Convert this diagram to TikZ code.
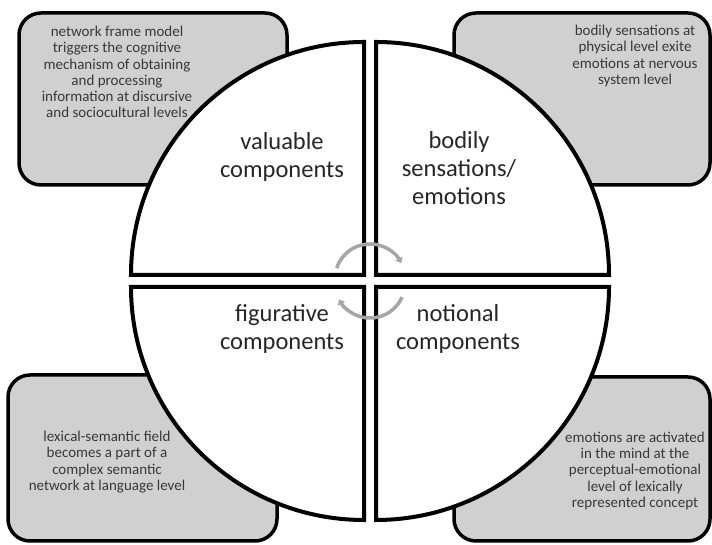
\documentclass[tikz,border=0pt]{standalone}
\usepackage{fontspec}
\setmainfont{Carlito}
\usetikzlibrary{arrows.meta}
\definecolor{boxgray}{HTML}{D0D0D0}
\definecolor{boxtext}{HTML}{383838}
\definecolor{quadtext}{HTML}{262626}
\definecolor{arrgray}{HTML}{A6A6A6}
\begin{document}
\begin{tikzpicture}[x=1pt,y=1pt,
  infobox/.style={draw=black,line width=3.5pt,fill=boxgray,rounded corners=22pt},
  quad/.style={draw=black,line width=4pt,fill=white},
  boxlabel/.style={align=center,text=boxtext,font=\fontsize{15}{16.2}\selectfont,inner sep=0pt},
  quadlabel/.style={align=center,text=quadtext,font=\fontsize{24.5}{28}\selectfont,inner sep=0pt},
  cyclearrow/.style={draw=arrgray,line width=3.5pt,-{Triangle[length=5pt,width=8pt]}}]
\useasboundingbox (0,0) rectangle (712,545);
% grey information boxes
\path[infobox] (19,360) rectangle (287,532);
\path[infobox] (454,360) rectangle (710,532);
\path[infobox] (8,4) rectangle (277,170);
\path[infobox] (454,4) rectangle (710,168);
% four quadrants
\path[quad] (364,270) -- (131,270) arc[start angle=180,end angle=90,radius=233] -- cycle;
\path[quad] (376,270) -- (376,503) arc[start angle=90,end angle=0,radius=233] -- cycle;
\path[quad] (364,258) -- (131,258) arc[start angle=180,end angle=270,radius=233] -- cycle;
\path[quad] (376,258) -- (609,258) arc[start angle=0,end angle=-90,radius=233] -- cycle;
% cycle arrows
\coordinate (cu) at (370,266);
\coordinate (cl) at (370,262);
\draw[cyclearrow] ([shift={(162:35)}]cu) arc[start angle=162,end angle=27,radius=35];
\draw[cyclearrow] ([shift={(-24:35)}]cl) arc[start angle=-24,end angle=-152,radius=35];
% box texts
\node[boxlabel] (tltext) at (117,473) {network frame model\\triggers the cognitive\\mechanism of obtaining\\and processing\\information at discursive\\and sociocultural levels};
\node[boxlabel] (trtext) at (635,489) {bodily sensations at\\physical level exite\\emotions at nervous\\system level};
\node[boxlabel] (bltext) at (107,83) {lexical-semantic field\\becomes a part of a\\complex semantic\\network at language level};
\node[boxlabel] (brtext) at (635,74) {emotions are activated\\in the mind at the\\perceptual-emotional\\level of lexically\\represented concept};
% quadrant texts
\node[quadlabel] (val) at (282,388) {valuable\\components};
\node[quadlabel] (bod) at (459,377) {bodily\\sensations/\\emotions};
\node[quadlabel] (fig) at (282,216) {figurative\\components};
\node[quadlabel] (not) at (458,216) {notional\\components};
\end{tikzpicture}
\end{document}
